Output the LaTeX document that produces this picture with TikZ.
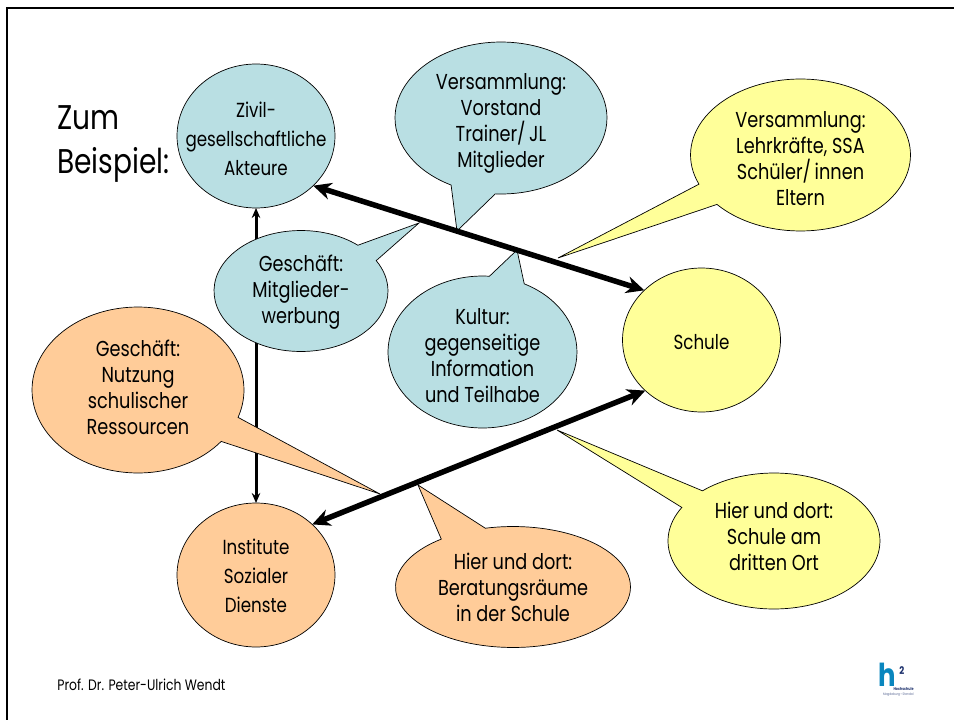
\documentclass[tikz,border=0pt]{standalone}
\usepackage{fontspec}
\setmainfont[FakeStretch=0.82]{Poppins}
\usetikzlibrary{shapes.geometric,shapes.callouts,arrows.meta}

\definecolor{bluefill}{HTML}{B9DFE3}
\definecolor{yellowfill}{HTML}{FFFF99}
\definecolor{orangefill}{HTML}{FFCC99}
\definecolor{logoblue}{HTML}{0A86BE}
\definecolor{logonavy}{HTML}{1B2F6B}

\newcommand{\down}[1]{\rule{0pt}{#1}}
\newcommand{\up}[1]{\rule[-#1]{0pt}{#1}}

\tikzset{
    actor/.style={ellipse, draw=black, inner xsep=-0.6cm, inner ysep=-0.5cm, outer sep=0pt, align=center,
        minimum width=3.16cm, minimum height=2.88cm, font=\fontsize{11.6}{16.5}\selectfont},
    bubble/.style={ellipse callout, draw=black, inner xsep=-0.6cm, inner ysep=-0.5cm, outer sep=0pt, align=center,
        font=\fontsize{12.3}{14.8}\selectfont},
    link/.style={line width=0.11cm, black, {Stealth[length=0.36cm,width=0.34cm]}-{Stealth[length=0.36cm,width=0.34cm]}},
    pillar/.style={line width=0.06cm, black, {Stealth[length=0.2cm,width=0.17cm]}-{Stealth[length=0.2cm,width=0.17cm]}},
}

\begin{document}
\begin{tikzpicture}[x=0.02cm,y=-0.02cm]
    \useasboundingbox (0,0) rectangle (954,720);
    \draw [black, line width=0.045cm] (7,720) -- (7,8) -- (954,8);

    \node [anchor=north west, inner sep=0pt, align=left, font=\fontsize{19.5}{25.2}\selectfont] (title) at (57,105) {Zum\\Beispiel:};

    \node [actor, fill=bluefill] (zivil) at (256,136) {\down{11.7pt}Zivil-\\gesellschaftliche\\Akteure};
    \node [actor, fill=orangefill] (institute) at (256,575) {\down{9.4pt}Institute\\Sozialer\\Dienste};
    \node [actor, fill=yellowfill] (schule) at (701.5,340) {\down{10.6pt}Schule};

    \draw [pillar] (zivil.south) -- (institute.north);

    \node [bubble, fill=bluefill, minimum width=4.24cm, minimum height=3.04cm, callout pointer arc=25,
        callout absolute pointer={(457,231)}] (vereinsv) at (501,118) {\down{15pt}Versammlung:\\Vorstand\\Trainer/\,JL\\Mitglieder};
    \node [bubble, fill=yellowfill, minimum width=4.4cm, minimum height=3.04cm, callout pointer arc=18,
        callout absolute pointer={(558,258)}] (schulv) at (800.5,155) {\down{13.4pt}Versammlung:\\Lehrkräfte, SSA\\Schüler/\,innen\\Eltern};
    \node [bubble, fill=bluefill, minimum width=3.48cm, minimum height=2.42cm, callout pointer arc=19,
        callout absolute pointer={(419,223)}] (werbung) at (301,291) {\down{11pt}Geschäft:\\Mitglieder-\\werbung};
    \node [bubble, fill=bluefill, minimum width=3.78cm, minimum height=3.04cm, callout pointer arc=22,
        callout absolute pointer={(517,250)}] (kultur) at (482.5,352) {\down{12.8pt}Kultur:\\gegenseitige\\Information\\und Teilhabe};
    \node [bubble, fill=orangefill, minimum width=4.24cm, minimum height=3.32cm, callout pointer arc=19,
        callout absolute pointer={(380,494)}] (nutzung) at (138,390) {Geschäft:\\Nutzung\\schulischer\\Ressourcen\up{2.9pt}};
    \node [bubble, fill=orangefill, minimum width=4.7cm, minimum height=2.42cm, callout pointer arc=24,
        callout absolute pointer={(418,485)}] (beratung) at (513,587) {Hier und dort:\\Beratungsräume\\in der Schule};
    \node [bubble, fill=yellowfill, minimum width=4.24cm, minimum height=2.72cm, callout pointer arc=18,
        callout absolute pointer={(557,430)}] (drittort) at (774,541) {Hier und dort:\\Schule am\\dritten Ort\up{5.7pt}};

    \draw [link] (zivil.-41) -- (schule.139);
    \draw [link] (institute.42) -- (schule.222);

    \node [anchor=west, inner sep=0pt, font=\fontsize{8.6}{10}\selectfont] (autor) at (57,685) {Prof. Dr. Peter-Ulrich Wendt};

    \node [anchor=base west, inner sep=0pt, text=logoblue, font=\fontsize{18}{18}\bfseries\selectfont] (logoh) at (878,686) {h};
    \node [anchor=base west, inner sep=0pt, text=logonavy, font=\fontsize{6}{6}\bfseries\selectfont] (logotwo) at (899,674) {2};
    \node [anchor=base east, inner sep=0pt, text=logonavy, font=\fontsize{2.3}{3}\bfseries\selectfont] (logoname) at (914,690) {Hochschule};
    \node [anchor=base east, inner sep=0pt, text=logonavy!70, font=\fontsize{2}{3}\selectfont] (logoort) at (914,695) {Magdeburg • Stendal};
\end{tikzpicture}
\end{document}
